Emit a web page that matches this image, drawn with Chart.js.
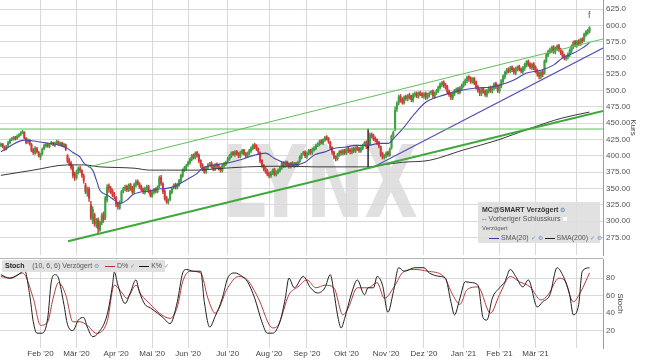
<!DOCTYPE html>
<html><head><meta charset="utf-8">
<script src="https://cdn.jsdelivr.net/npm/chart.js@4.4.1/dist/chart.umd.min.js"></script>
<style>
html,body{margin:0;padding:0;background:#fff;}
body{width:645px;height:363px;position:relative;overflow:hidden;font-family:"Liberation Sans",Arial,sans-serif;}
canvas{position:absolute;left:0;}
#c1{top:0;}
#c2{top:257px;}
.lg{position:absolute;white-space:nowrap;color:#555;}
#lg1{left:478px;top:202px;width:122px;height:41px;background:rgba(222,222,222,0.9);font-size:7px;}
#lg1 div{position:absolute;line-height:9px;}
#lg2{left:2px;top:260px;width:163px;height:12px;background:rgba(222,222,222,0.9);font-size:7px;line-height:12px;}
.ln{display:inline-block;vertical-align:middle;width:10px;height:0;border-top:1.5px solid #000;margin:0 2px 0 2px;}
.ck{color:#6d8fc4;font-size:6px;}
.gear{color:#7c96be;font-size:6px;}
</style>
</head><body>
<canvas id="c1" width="645" height="257"></canvas>
<canvas id="c2" width="645" height="106"></canvas>
<div class="lg" id="lg1">
 <div style="left:4px;top:3px;font-weight:bold;color:#333">MC@SMART Verzögert <span class="gear">⚙</span></div>
 <div style="left:4px;top:12px">-- Vorheriger Schlusskurs <span style="display:inline-block;width:4px;height:4px;background:#fff"></span></div>
 <div style="left:4px;top:22px;font-size:6px">Verzögert</div>
 <div style="left:9px;top:31px"><span class="ln" style="border-color:#3b3b9e"></span>SMA(20) <span class="ck">✓</span> <span class="gear">⚙</span><span class="ln" style="border-color:#222"></span>SMA(200) <span class="ck">✓</span> <span class="gear">⚙</span></div>
</div>
<div class="lg" id="lg2"><span style="margin-left:3px;font-weight:bold;color:#222">Stoch</span>&nbsp;&nbsp;&nbsp;&nbsp;(10, 6, 6) Verzögert <span class="gear">⚙</span>&nbsp;&nbsp;<span class="ln" style="border-color:#b43232"></span>D% <span class="ck">✓</span>&nbsp;<span class="ln" style="border-color:#111"></span>K% <span class="ck">✓</span></div>
<div class="lg" style="left:588px;top:10px;font-size:9px;color:#555">f</div>
<script>
// ---------- data ----------
const monthIdx = [22,42,64,84,104,126,149,170,192,214,235,257,277,297,320];
const monthLabels = ["Feb '20","Mär '20","Apr '20","Mai '20","Jun '20","Jul '20","Aug '20","Sep '20","Okt '20","Nov '20","Dez '20","Jan '21","Feb '21","Mär '21",""];
const priceTicks = [275,300,325,350,375,400,425,450,475,500,525,550,575,600,625];
const priceTickLabels = ["275.00","300.00","325.00","350.00","375.00","400.00","425.00","450.00","475.00","500.0","525.0","550.0","575.0","600.0","625.0"];
const stochTicks = [20,40,60,80];
const stochTickLabels = ["20","40","60","80"];

const opens = [
416,418,413,411,416,420,425,426,428,427, 430,433,435,436,427,421,423,417,409,404,
411,405,398,403,411,415,418,414,419,420, 416,420,421,417,420,415,417,400,393,389,
383,372,366,376,381,377,369,355,343,349, 325,300,310,295,302,286,297,310,305,332,
354,350,346,341,336,327,320,330,346,349, 353,347,356,351,344,355,361,357,353,349,
344,350,353,346,338,344,349,345,353,367, 357,346,336,328,333,344,351,356,351,355,
361,369,379,381,386,389,394,401,397,405, 401,393,386,381,375,381,387,389,384,379,
387,385,381,377,384,387,391,395,399,405, 401,407,404,399,404,409,404,399,403,407,
411,417,415,411,405,393,386,381,377,373, 369,373,379,371,374,377,381,389,384,391,
387,383,389,384,389,385,391,397,403,406, 399,403,409,404,409,411,417,417,423,419,
424,429,427,421,413,406,399,395,401,407, 403,409,404,411,409,405,411,407,413,411,
407,411,417,421,412,418,433,431,427,425, 421,414,403,397,399,405,401,412,431,440,
472,481,491,486,481,491,487,493,491,485, 493,496,491,497,495,491,496,489,493,497,
499,491,497,499,504,509,513,509,506,499, 495,489,495,499,503,497,503,507,511,515,
521,519,513,519,513,506,501,495,503,499, 493,499,505,499,504,511,507,499,507,514,
521,527,533,529,536,533,527,533,537,533, 529,534,539,545,541,535,541,536,531,527,
521,529,527,545,554,559,561,567,559,564, 569,563,559,554,549,551,555,561,567,575,
570,576,571,579,577,585,589,591];
const highs = [
420,419,415,416,422,426,428,430,430,432, 434,437,439,437,428,426,425,419,411,414,
413,407,404,412,418,420,419,419,422,421, 421,424,423,421,421,419,418,402,396,391,
386,375,378,383,384,379,372,358,352,352, 330,322,312,304,305,300,312,314,338,356,
357,353,349,344,338,329,331,347,352,355, 355,357,358,353,358,363,363,359,355,351,
352,355,355,348,347,350,351,354,369,370, 359,348,338,334,347,352,357,358,358,364,
372,380,384,387,392,397,402,403,406,407, 403,394,388,383,384,388,390,391,386,388,
389,387,383,387,390,392,398,402,406,407, 408,408,405,407,410,410,405,406,410,414,
418,419,417,412,406,394,387,383,379,375, 376,380,381,377,380,384,390,391,392,392,
389,390,391,390,390,392,400,404,407,408, 406,410,410,412,414,418,420,424,425,426,
430,431,428,422,414,407,400,404,408,409, 410,410,412,413,411,412,413,414,415,413,
414,418,422,423,441,435,435,433,429,426, 422,415,405,402,406,407,412,432,438,475,
483,493,494,489,492,493,494,496,493,496, 498,498,498,499,497,497,498,496,498,500,
501,498,502,507,512,514,515,511,508,501, 497,498,502,504,505,506,510,514,518,522,
523,521,520,520,515,508,503,504,505,501, 502,506,507,507,512,513,509,510,517,524,
530,534,535,537,538,535,536,538,539,535, 537,542,546,547,543,542,543,538,533,529,
530,531,547,557,562,565,568,569,567,570, 571,565,561,556,554,558,564,570,576,577,
577,578,580,581,588,592,594,598];
const lows = [
414,412,408,409,414,418,423,424,424,425, 428,431,434,426,418,419,416,406,402,402,
404,398,394,401,409,413,413,412,417,415, 414,418,416,415,414,413,408,389,385,379,
366,362,364,372,374,367,358,342,338,330, 302,296,292,290,282,284,294,298,302,329,
344,342,337,334,322,318,318,327,343,346, 345,345,347,342,342,352,355,350,346,342,
341,347,343,337,336,341,343,343,351,355, 342,332,327,326,331,342,349,349,349,353,
359,367,376,378,384,387,392,395,395,398, 389,382,377,373,373,379,384,381,377,377,
381,378,375,375,382,385,389,393,397,400, 399,401,397,397,402,401,397,397,401,405,
409,411,408,403,389,382,377,373,369,366, 367,371,369,369,372,375,379,382,382,383,
381,381,383,382,383,383,389,395,401,397, 396,401,402,402,407,409,414,415,418,417,
422,424,419,409,402,395,392,393,399,401, 401,402,402,405,403,403,405,405,408,405,
405,409,415,411,382,416,427,423,421,417, 412,399,395,395,397,399,399,410,428,438,
468,478,482,479,479,485,484,487,483,482, 490,489,488,492,489,488,486,487,490,494,
489,488,494,497,502,506,505,502,495,491, 486,486,492,497,495,495,500,505,508,512,
514,511,511,509,502,497,492,492,496,491, 490,496,497,496,501,503,497,496,504,511,
518,525,527,527,529,525,524,530,530,527, 526,531,536,537,533,532,532,527,522,518,
518,521,525,543,552,557,558,557,556,561, 560,555,550,547,546,548,552,558,564,567,
566,569,569,573,575,583,586,588];
const closes = [
418,414,410,415,420,424,426,428,426,430, 432,435,437,428,420,424,418,408,405,412,
406,400,402,410,416,418,415,418,420,417, 419,422,418,420,416,418,410,392,388,382,
370,368,375,380,378,370,362,345,348,335, 305,318,296,300,288,298,308,302,335,352,
350,345,340,338,326,322,328,345,350,352, 348,355,350,345,356,360,358,352,348,345,
350,352,345,340,345,348,346,352,366,358, 345,335,330,332,345,350,355,352,356,362,
370,378,382,385,390,395,400,398,404,400, 392,385,380,376,382,386,388,383,380,386,
384,380,378,385,388,390,396,400,404,402, 406,403,400,405,408,403,400,404,408,412,
416,414,410,406,392,385,380,376,372,370, 374,378,372,375,378,382,388,385,390,386,
384,388,385,388,386,390,398,402,405,400, 404,408,405,410,412,416,418,422,420,425,
428,426,422,412,405,398,396,402,406,404, 408,405,410,408,406,410,408,412,410,408,
412,416,420,414,412,432,430,426,424,420, 415,402,398,400,404,402,410,430,436,470,
480,490,485,482,490,488,492,490,486,494, 495,492,496,494,492,495,490,494,496,498,
492,496,500,505,510,512,508,505,498,494, 490,496,500,502,498,504,508,512,516,520,
518,514,518,512,505,500,496,502,498,494, 500,504,500,505,510,506,500,508,515,522,
528,532,530,535,532,528,534,536,532,530, 535,540,544,540,536,540,534,530,526,522,
528,525,545,555,560,562,566,560,565,568, 562,558,553,550,552,556,562,568,574,571,
575,572,578,576,586,590,592,596];

const sma20Idx = [0,13,22,36,40,44,46,51,53,55,59,63,66,70,73,77,83,87,92,98,103,109,112,119,126,132,141,147,152,158,163,169,174,180,186,191,197,204,210,215,219,224,230,236,246,255,264,272,277,285,292,300,307,312,318,323,327];
const sma20Val = [406,424,421,413,405,398,389,378,363,347,340,332,327,332,340,344,346,349,350,355,363,373,381,386,389,393,401,404,396,389,386,390,401,406,412,413,416,416,419,419,429,444,465,482,493,500,504,505,508,516,527,531,539,550,557,565,573];
const sma200Idx = [0,18,37,46,55,65,74,83,92,102,110,119,137,156,175,193,204,212,223,238,257,276,294,312,327];
const sma200Val = [370,378,386,386,383,382,381,378,378,378,378,380,383,384,383,383,383,386,390,393,409,424,442,458,467];

const resistIdx = [-0.5,334.5];      const resistVal = [441,441];
const channelTopIdx = [48.4,334.5];  const channelTopVal = [382.6,579.0];
const channelLowIdx = [37.3,334.5];  const channelLowVal = [269.1,468.5];
const blueTrendIdx = [207.8,334.5];  const blueTrendVal = [384,565.2];

const kIdx = [0,5,11,13,16,18,20,23,26,28,30,32,35,37,40,43,46,48,51,54,59,62,63,65,69,72,75,77,80,83,87,90,94,98,101,103,107,111,113,116,119,123,126,130,134,137,141,145,148,151,155,158,160,163,168,172,176,180,183,185,187,189,191,195,198,202,204,207,209,212,215,218,221,224,230,235,238,244,247,250,252,255,258,261,265,268,270,273,277,280,283,286,290,293,298,301,305,309,312,316,318,321,323,327];
const kVal = [84,80,86,90,61,30,17,17,34,76,84,80,50,27,20,32,35,24,13,17,38,72,87,72,51,64,78,64,50,46,40,35,28,53,86,90,88,88,53,24,36,57,80,86,82,76,57,30,17,17,30,57,80,69,82,69,63,69,84,64,38,23,34,64,78,61,69,69,82,72,41,64,92,88,92,92,86,82,80,53,38,57,76,75,72,34,32,57,69,76,90,82,70,78,47,53,61,92,84,61,38,50,88,92];
const dIdx = [0,5,12,18,22,26,29,32,36,40,44,48,53,59,63,67,70,75,78,83,88,94,98,101,105,111,115,119,126,132,137,143,151,154,160,165,170,175,180,185,190,193,198,204,209,213,219,223,230,237,246,251,255,259,265,272,277,283,288,294,300,304,310,313,318,322,327];
const dVal = [82,80,86,57,26,30,57,75,61,30,30,26,17,30,72,64,57,72,61,50,40,34,47,76,88,86,57,40,69,82,78,57,23,26,61,70,78,69,72,69,38,46,69,69,75,57,72,86,90,88,82,61,50,67,70,40,61,82,76,70,55,61,80,78,53,64,86];

// ---------- helpers ----------
const FONT = '"Liberation Sans", Arial, sans-serif';
Chart.defaults.font.family = FONT;
const UP = '#3f9f42', DOWN = '#d33a36', FLAT = '#222222';
const GRID = '#d9d9d9';
function candleColor(i){ return closes[i] > opens[i] ? UP : (closes[i] < opens[i] ? DOWN : FLAT); }
function pts(ix, vals){ return ix.map((x,k)=>({x:x, y:vals[k]})); }
const X_MIN = -0.5, X_MAX = 334.5;

const watermark = {
  id:'wm',
  beforeDraw(chart){
    const ctx = chart.ctx; ctx.save();
    ctx.font = 'bold 100px "DejaVu Sans"';
    const w = ctx.measureText('LYNX').width;
    ctx.fillStyle = '#e0e0e0';
    ctx.translate(222, 217); ctx.scale(196 / w, 1);
    ctx.fillText('LYNX', 0, 0);
    ctx.restore();
  }
};
const topFrame = {
  id:'tf',
  afterDraw(chart){
    const {ctx, chartArea:a} = chart; ctx.save();
    ctx.strokeStyle = '#b5b5b5'; ctx.lineWidth = 1;
    ctx.beginPath(); ctx.moveTo(a.left, a.top - 0.5); ctx.lineTo(a.right, a.top - 0.5); ctx.stroke();
    ctx.restore();
  }
};

function xScale(showLabels){
  return {
    type:'linear', min:X_MIN, max:X_MAX, offset:false,
    afterBuildTicks: s => { s.ticks = monthIdx.map(v => ({value:v})); },
    ticks:{ display:showLabels, autoSkip:false, maxRotation:0, padding:1, color:'#444', font:{size:8},
            callback: v => monthLabels[monthIdx.indexOf(v)] },
    grid:{ color:GRID, drawTicks:false, offset:false, lineWidth:1 },
    border:{ display:false },
    afterFit: s => { s.height = showLabels ? 15 : 2; s.paddingLeft = 0; s.paddingRight = 0; }
  };
}

const candleIdx = closes.map((c,i)=>i);

new Chart(document.getElementById('c1'), {
  type:'bar',
  data:{ datasets:[
    { type:'line', data:pts(channelLowIdx, channelLowVal), borderColor:'#3ea83a', borderWidth:2, pointRadius:0, order:1 },
    { type:'line', data:pts(channelTopIdx, channelTopVal), borderColor:'#5cc05a', borderWidth:1, pointRadius:0, order:1 },
    { type:'line', data:pts(resistIdx, resistVal), borderColor:'#5cc05a', borderWidth:1, pointRadius:0, order:1 },
    { type:'line', data:pts(blueTrendIdx, blueTrendVal), borderColor:'#5252b8', borderWidth:1.2, pointRadius:0, order:1 },
    { type:'line', data:pts(sma20Idx, sma20Val), borderColor:'#4848a8', borderWidth:1.1, pointRadius:0, cubicInterpolationMode:'monotone', order:3 },
    { type:'line', data:pts(sma200Idx, sma200Val), borderColor:'#3a3a3a', borderWidth:1, pointRadius:0, cubicInterpolationMode:'monotone', order:3 },
    { type:'bar', data:candleIdx.map(i=>({x:i, y:[opens[i], closes[i]]})), backgroundColor:c=>candleColor(c.dataIndex),
      barThickness:1.4, minBarLength:1, grouped:false, borderWidth:0, order:8 },
    { type:'bar', data:candleIdx.map(i=>({x:i, y:[lows[i], highs[i]]})), backgroundColor:c=>candleColor(c.dataIndex),
      barThickness:0.8, grouped:false, borderWidth:0, order:9 }
  ]},
  options:{
    responsive:false, animation:false, devicePixelRatio:1,
    layout:{ padding:0 },
    plugins:{ legend:{display:false}, tooltip:{enabled:false} },
    scales:{
      x: xScale(false),
      y:{ position:'right', min:247.9, max:638.8,
          afterBuildTicks: s => { s.ticks = priceTicks.map(v => ({value:v})); },
          ticks:{ color:'#555', font:{size:8}, padding:3, callback: v => priceTickLabels[priceTicks.indexOf(v)] },
          grid:{ color:GRID, drawTicks:false },
          border:{ color:'#9c9c9c' },
          title:{ display:true, text:'Kurs', color:'#444', font:{size:8}, padding:{top:7, bottom:0} },
          afterFit: s => { s.width = 42; s.paddingTop = 0; s.paddingBottom = 0; } }
    }
  },
  plugins:[watermark]
});

new Chart(document.getElementById('c2'), {
  type:'line',
  data:{ datasets:[
    { data:pts(dIdx, dVal), borderColor:'#b83a3a', borderWidth:1, pointRadius:0, cubicInterpolationMode:'monotone', order:2 },
    { data:pts(kIdx, kVal), borderColor:'#1e1e1e', borderWidth:1, pointRadius:0, cubicInterpolationMode:'monotone', order:1 }
  ]},
  options:{
    responsive:false, animation:false, devicePixelRatio:1,
    layout:{ padding:{ top:2, left:0, right:0, bottom:0 } },
    plugins:{ legend:{display:false}, tooltip:{enabled:false} },
    scales:{
      x: xScale(true),
      y:{ position:'right', min:0, max:102,
          afterBuildTicks: s => { s.ticks = stochTicks.map(v => ({value:v})); },
          ticks:{ color:'#555', font:{size:8}, padding:3, callback: v => stochTickLabels[stochTicks.indexOf(v)] },
          grid:{ color:GRID, drawTicks:false },
          border:{ color:'#9c9c9c' },
          title:{ display:true, text:'Stoch', color:'#444', font:{size:8}, padding:{top:20, bottom:0} },
          afterFit: s => { s.width = 42; s.paddingTop = 0; s.paddingBottom = 0; } }
    }
  },
  plugins:[topFrame]
});
</script>
</body></html>
